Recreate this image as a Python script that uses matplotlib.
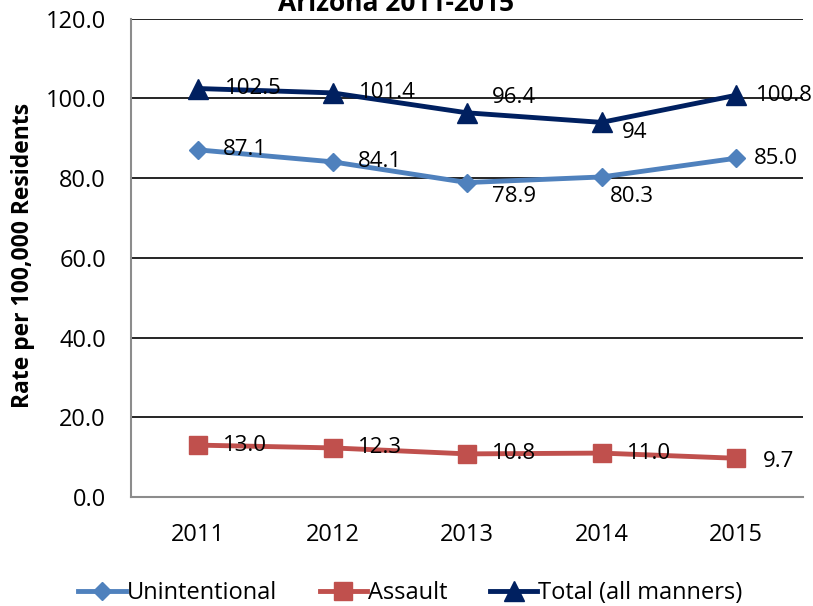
import matplotlib
matplotlib.use("Agg")
import matplotlib.pyplot as plt
from matplotlib.lines import Line2D

plt.rcParams['font.family'] = ['Open Sans', 'DejaVu Sans']

years = ['2011', '2012', '2013', '2014', '2015']
unintentional = [87.1, 84.1, 78.9, 80.3, 85.0]
assault = [13.0, 12.3, 10.8, 11.0, 9.7]
total = [102.5, 101.4, 96.4, 94, 100.8]

# offsets (points) of the value labels from each marker
unint_offsets = [(18, 0), (18, 0), (18, -10), (6, -14), (13, 0)]
assault_offsets = [(18, 0), (18, 0), (18, 0), (18, 0), (19, -2)]
total_offsets = [(19, 0), (19, 0), (18, 11), (15, -7), (14, 0)]

blue = '#4f81bd'
red = '#c0504d'
navy = '#002060'

fig = plt.figure(figsize=(8.13, 6.06), dpi=100)
ax = fig.add_axes([0.161, 0.180, 0.827, 0.789])

x = list(range(len(years)))
ax.plot(x, unintentional, color=blue, lw=3.5, marker='D', ms=9.5, zorder=3)
ax.plot(x, assault, color=red, lw=3.5, marker='s', ms=13, zorder=3)
ax.plot(x, total, color=navy, lw=3.5, marker='^', ms=14, zorder=3)

def put_labels(values, offsets, fmt):
    for xi, v, off in zip(x, values, offsets):
        ax.annotate(fmt.format(v), (xi, v), xytext=off, textcoords='offset points',
                    ha='left', va='center', fontsize=16, zorder=4,
                    annotation_clip=False)

put_labels(unintentional, unint_offsets, '{:.1f}')
put_labels(assault, assault_offsets, '{:.1f}')
put_labels(total, total_offsets, '{:g}')

ax.set_xlim(-0.5, 4.5)
ax.set_ylim(0, 120)
ax.set_xticks(x)
ax.set_xticklabels(years)
ax.set_yticks(range(0, 121, 20))
ax.set_yticklabels(['%.1f' % v for v in range(0, 121, 20)])
ax.tick_params(axis='both', length=0, labelsize=17)
ax.tick_params(axis='y', pad=18)
ax.tick_params(axis='x', pad=19)
ax.yaxis.grid(True, color='black', lw=1.2)
ax.set_axisbelow(True)
for side in ['top', 'right']:
    ax.spines[side].set_visible(False)
for side in ['left', 'bottom']:
    ax.spines[side].set_color('#8c8c8c')
    ax.spines[side].set_linewidth(1.5)

fig.text(0.028, 0.579, 'Rate per 100,000 Residents', rotation=90,
         ha='center', va='center', fontsize=16.5, fontweight='bold')
fig.text(0.487, 0.982, 'Arizona 2011-2015', ha='center', va='baseline',
         fontsize=19, fontweight='bold')

handles = [
    Line2D([], [], color=blue, lw=3.5, marker='D', ms=9.5),
    Line2D([], [], color=red, lw=3.5, marker='s', ms=13),
    Line2D([], [], color=navy, lw=3.5, marker='^', ms=14),
]
fig.legend(handles, ['Unintentional', 'Assault', 'Total (all manners)'],
           loc='center', bbox_to_anchor=(0.505, 0.0215), ncol=3, frameon=False,
           fontsize=17, handlelength=2.0, handletextpad=0.05, columnspacing=1.8)

fig.savefig('out.png', dpi=100)
